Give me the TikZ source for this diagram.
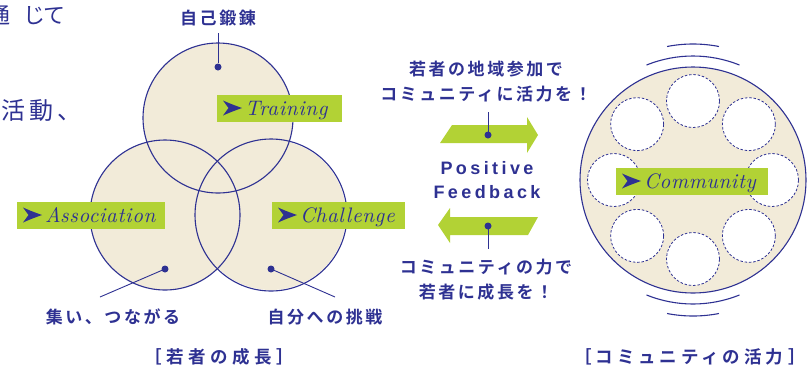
\documentclass[tikz,border=0pt]{standalone}
\usepackage{fontspec}
\usetikzlibrary{calc}
\newfontfamily\jpb{Noto Sans CJK JP Bold}
\newfontfamily\jpr{Noto Sans CJK JP}
\newfontfamily\lsb{Liberation Sans}
\newfontfamily\lmi{lmroman10-italic.otf}[LetterSpace=3]
\definecolor{navy}{RGB}{46,49,146}
\definecolor{lime}{RGB}{178,210,53}
\definecolor{beige}{RGB}{242,235,217}
\newcommand{\mk}{\tikz[baseline=-7.5pt]{\fill[navy] (0,7.5pt) .. controls (8pt,4pt) .. (19pt,0) .. controls (8pt,-4pt) .. (0,-7.5pt) -- (5.5pt,0) -- cycle;}\hspace{3pt}}
\begin{document}
\begin{tikzpicture}[x=1pt,y=1pt,
  ring/.style={draw=navy, line width=1.1pt},
  venn/.style={circle, minimum size=150pt, inner sep=0pt, fill=beige},
  dot/.style={circle, fill=navy, minimum size=7pt, inner sep=0pt},
  conn/.style={draw=navy, line width=0.9pt},
  tag/.style={fill=lime, minimum height=27pt, inner ysep=0pt, inner xsep=6pt, align=left, text=navy,
    text height=14pt, text depth=0pt, font=\lmi\fontsize{21}{22}\selectfont},
  jlab/.style={text=navy, inner sep=0pt, align=center,
    font=\jpb\fontsize{17}{25}\selectfont\addfontfeatures{LetterSpace=15}},
  brk/.style={text=navy, inner sep=0pt,
    font=\jpb\fontsize{17.5}{20}\selectfont\addfontfeatures{LetterSpace=26}},
  pf/.style={text=navy, inner sep=0pt, align=center,
    font=\lsb\bfseries\fontsize{18}{24}\selectfont\addfontfeatures{LetterSpace=19}},
  small/.style={circle, minimum size=53pt, inner sep=0pt, fill=white, draw=navy, dash pattern=on 2.5pt off 1.8pt, line width=0.8pt},
  bigarrow/.style={fill=lime},
  crop/.style={text=navy, inner sep=0pt}
]
\useasboundingbox (0,0) rectangle (808,-373);

% cropped text at top-left (cut by the page edge, as in the reference)
\node[crop, anchor=east, font=\jpr\fontsize{22}{22}\selectfont] (t1) at (66,-15) {通\hspace{13pt}じ\hspace{-2pt}て};
\node[crop, anchor=west, font=\jpr\fontsize{24}{24}\selectfont\addfontfeatures{LetterSpace=18}] (t2) at (1,-110) {活動、};

% Venn
\node[venn] (c1) at (218,-118) {};
\node[venn] (c2) at (165,-215) {};
\node[venn] (c3) at (271,-215) {};
\draw[ring] (c1.center) circle (75);
\draw[ring] (c2.center) circle (75);
\draw[ring] (c3.center) circle (76);

\node[dot] (d1) at (218,-67) {};
\node[dot] (d2) at (165,-269) {};
\node[dot] (d3) at (271,-269) {};

\node[jlab] (l1) at (218,-18) {自己鍛錬};
\node[jlab] (l2) at (113,-317) {集い、つながる};
\node[jlab] (l3) at (325,-317) {自分への挑戦};
\coordinate (e1) at (218,-33);
\coordinate (e2) at (100,-297);
\coordinate (e3) at (335,-297);
\draw[conn] (d1) -- (e1);
\draw[conn] (d2.center) -- (e2);
\draw[conn] (d3.center) -- (e3);

\node[tag, text width=113pt] (tr) at (279.5,-108.5) {\mk Training};
\node[tag, text width=136pt] (as) at (91,-215.5) {\mk Association};
\node[tag, text width=121pt] (ch) at (338.5,-215.5) {\mk Challenge};

\node[brk] (b1) at (219,-357) {［若者の成長］};

% middle
\fill[bigarrow] (452,-125) -- (527,-125) -- (527,-117) -- (538,-135) -- (527,-153) -- (527,-143) -- (440,-143) -- cycle;
\fill[bigarrow] (438,-225) -- (450,-208) -- (450,-217) -- (538,-217) -- (528,-235) -- (450,-235) -- (450,-243) -- cycle;
\node[jlab] (m1) at (486,-82) {若者の地域参加で\\コミュニティに活力を！};
\node[pf] (pfb) at (487,-180) {Positive\\Feedback};
\node[jlab] (m2) at (486,-280) {コミュニティの力で\\若者に成長を！};
\node[dot] (d4) at (488,-135) {};
\node[dot] (d5) at (488,-226) {};
\coordinate (e4) at (488,-112);
\coordinate (e5) at (488,-249);
\draw[conn] (d4.center) -- (e4);
\draw[conn] (d5.center) -- (e5);

% community
\node[circle, minimum size=226pt, inner sep=0pt, fill=beige, draw=navy, line width=1.1pt] (cm) at (693,-180) {};
\foreach \a [count=\i] in {90,45,0,-45,-90,-135,180,135}{
  \node[small] (s\i) at ($(cm.center)+(\a:79)$) {};
}
\draw[ring] ($(cm.center)+(68:124)$) arc[start angle=68, end angle=112, radius=124];
\draw[ring] ($(cm.center)+(79:136)$) arc[start angle=79, end angle=101, radius=136];
\draw[ring] ($(cm.center)+(248:124)$) arc[start angle=248, end angle=292, radius=124];
\draw[ring] ($(cm.center)+(259:136)$) arc[start angle=259, end angle=281, radius=136];
\node[tag, text width=140pt] (co) at (692,-181.5) {\mk Community};
\node[brk, font=\jpb\fontsize{17.5}{20}\selectfont\addfontfeatures{LetterSpace=22}] (b2) at (690,-357) {［コミュニティの活力\hspace{5pt}］};
\end{tikzpicture}
\end{document}
